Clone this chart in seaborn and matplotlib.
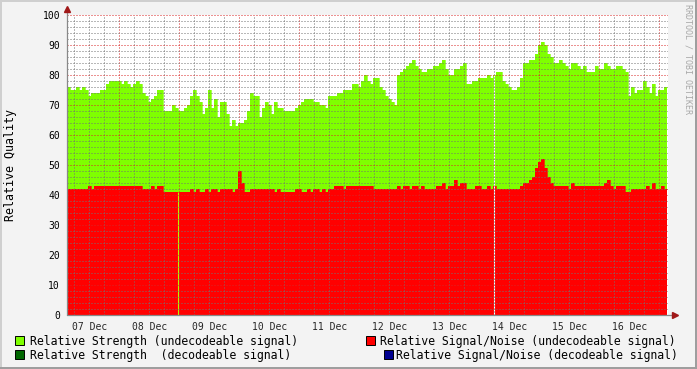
import numpy as np
import matplotlib
matplotlib.use("Agg")
import matplotlib.pyplot as plt
import seaborn as sns
from matplotlib.patches import Rectangle

# ---------------- data ----------------
start_hour = 3.08          # hours after 07 Dec 00:00 of the first sample
step_hours = 1.2           # consolidation step

strength_undecodeable = [
    76, 75, 75, 76, 75, 76, 75, 73, 74, 74,
    74, 75, 75, 77, 78, 78, 78, 78, 77, 78,
    77, 76, 77, 78, 77, 74, 73, 71, 72, 73,
    75, 75, 68, 68, 68, 70, 69, 68, 68, 69,
    70, 73, 75, 73, 71, 67, 69, 75, 69, 72,
    66, 71, 71, 67, 63, 65, 63, 64, 64, 65,
    68, 74, 73, 73, 66, 69, 71, 70, 67, 71,
    69, 69, 68, 68, 68, 68, 69, 70, 71, 72,
    72, 72, 71, 71, 70, 70, 69, 73, 73, 73,
    74, 74, 75, 75, 75, 77, 77, 76, 78, 80,
    78, 77, 79, 79, 76, 75, 73, 72, 71, 70,
    80, 81, 82, 83, 84, 85, 83, 82, 81, 81,
    82, 82, 83, 83, 84, 85, 82, 80, 80, 82,
    82, 83, 84, 77, 77, 78, 78, 79, 79, 79,
    80, 79, 80, 81, 81, 78, 77, 76, 75, 75,
    76, 79, 84, 84, 85, 85, 87, 90, 91, 90,
    87, 86, 84, 84, 85, 84, 83, 82, 84, 84,
    83, 82, 83, 81, 81, 81, 83, 82, 82, 84,
    83, 82, 82, 83, 83, 82, 81, 73, 76, 74,
    75, 75, 78, 76, 74, 77, 73, 75, 75, 76,
]

snr_undecodeable = [
    42, 42, 42, 42, 42, 42, 42, 43, 42, 43,
    43, 43, 43, 43, 43, 43, 43, 43, 43, 43,
    43, 43, 43, 43, 43, 42, 42, 42, 43, 42,
    43, 43, 41, 41, 41, 41, 41, 41, 41, 41,
    41, 42, 41, 42, 41, 41, 42, 41, 42, 42,
    41, 42, 42, 42, 42, 41, 42, 48, 44, 41,
    41, 42, 42, 42, 42, 42, 42, 42, 42, 41,
    42, 41, 41, 41, 41, 41, 42, 42, 41, 41,
    42, 41, 42, 42, 41, 42, 41, 42, 42, 43,
    43, 43, 42, 43, 43, 43, 43, 43, 43, 43,
    43, 43, 42, 42, 42, 42, 42, 42, 42, 42,
    43, 42, 43, 43, 42, 43, 43, 42, 43, 42,
    42, 42, 42, 43, 43, 44, 42, 43, 43, 45,
    43, 44, 44, 42, 42, 42, 43, 43, 42, 42,
    43, 42, 43, 42, 42, 42, 42, 42, 42, 42,
    42, 43, 44, 44, 45, 46, 49, 51, 52, 49,
    46, 44, 43, 43, 43, 43, 43, 42, 44, 43,
    43, 43, 43, 43, 43, 43, 43, 43, 43, 44,
    45, 43, 42, 43, 43, 43, 41, 41, 42, 42,
    42, 42, 42, 43, 42, 44, 42, 42, 43, 42,
]

snr_gap_hours = [47.3]       # missing S/N sample (strength still shown)
all_gap_hours = [173.7]      # missing sample for every series

day_labels = ["07 Dec", "08 Dec", "09 Dec", "10 Dec", "11 Dec",
              "12 Dec", "13 Dec", "14 Dec", "15 Dec", "16 Dec"]
day_label_hours = [12 + 24 * k for k in range(len(day_labels))]

legend_labels = ["Relative Strength (undecodeable signal)",
                 "Relative Signal/Noise (undecodeable signal)",
                 "Relative Strength  (decodeable signal)",
                 "Relative Signal/Noise (decodeable signal)"]

# ---------------- style ----------------
C_GREEN = "#7FFF00"
C_RED = "#FF0000"
C_DKGREEN = "#006600"
C_NAVY = "#000090"
legend_colors = [C_GREEN, C_RED, C_DKGREEN, C_NAVY]

sns.set_style("white")
plt.rcParams["font.family"] = ["DejaVu Sans Mono", "DejaVu Sans"]

W, H = 697, 369
fig = plt.figure(figsize=(W / 100, H / 100), dpi=100, facecolor="#F3F3F3")


def fx(px):
    return px / W


def fy(py):
    return 1 - py / H


ax = fig.add_axes([fx(67), fy(315), (668 - 67) / W, 300 / H])
ax.set_facecolor("white")

n = len(strength_undecodeable)
edges = start_hour + step_hours * np.arange(n + 1)
g_ext = np.append(strength_undecodeable, strength_undecodeable[-1])
r_ext = np.append(snr_undecodeable, snr_undecodeable[-1])

ax.fill_between(edges, 0, g_ext, step="post", color=C_GREEN, lw=0, zorder=1)
sns.lineplot(x=edges, y=g_ext, drawstyle="steps-post", color=C_GREEN,
             lw=0.5, ax=ax, zorder=1.1, legend=False)
ax.fill_between(edges, 0, r_ext, step="post", color=C_RED, lw=0, zorder=2)
sns.lineplot(x=edges, y=r_ext, drawstyle="steps-post", color=C_RED,
             lw=0.5, ax=ax, zorder=2.1, legend=False)

for gh in snr_gap_hours:
    idx = int((gh - start_hour) / step_hours)
    ax.vlines(gh, 0, snr_undecodeable[idx], color="#B8F400", lw=0.8, zorder=2.3)
for gh in all_gap_hours:
    ax.axvline(gh, color="white", lw=0.8, zorder=2.3)

ax.set_yticks(np.arange(0, 101, 10))
ax.set_yticks(np.arange(0, 101, 2), minor=True)
ax.set_xticks(np.arange(0, 241, 24))
ax.set_xticks(np.arange(0, 244, 6), minor=True)
ax.set_xticklabels([])
ax.set_xlim(start_hour, (668 - 59.3) / 2.5)
ax.set_ylim(0, 100)

ax.set_axisbelow(False)
ax.grid(which="major", color=(0.85, 0.15, 0.15, 0.40), ls=(0, (1, 2)), lw=0.72)
ax.grid(which="minor", color=(0.45, 0.45, 0.45, 0.32), ls=(0, (1, 2)), lw=0.72)

for s in ax.spines.values():
    s.set_visible(False)

ax.tick_params(axis="both", which="major", direction="inout", length=3,
               width=0.7, color="#909090", labelsize=7, labelcolor="black")
ax.tick_params(axis="both", which="minor", direction="inout", length=2,
               width=0.7, color="#A0A0A0")
ax.tick_params(axis="y", pad=3.5)

sec = ax.secondary_xaxis("bottom")
sec.set_xticks(day_label_hours, labels=day_labels)
sec.tick_params(length=0, pad=5, labelsize=7)
for s in sec.spines.values():
    s.set_visible(False)

AX_C = "#888888"
ARR_C = "#A01818"
ax.plot([0, 0], [0, 1 + 3 / 300], transform=ax.transAxes, clip_on=False,
        color=AX_C, lw=0.9, zorder=6)
ax.plot([0, 1 + 4 / 601], [0, 0], transform=ax.transAxes, clip_on=False,
        color=AX_C, lw=0.9, zorder=6)
ax.plot([0], [1 + 6 / 300], marker="^", ms=4.5, color=ARR_C, mec=ARR_C,
        transform=ax.transAxes, clip_on=False, zorder=7)
ax.plot([1 + 7 / 601], [0], marker=">", ms=4.5, color=ARR_C, mec=ARR_C,
        transform=ax.transAxes, clip_on=False, zorder=7)

fig.text(fx(11), fy(165), "Relative Quality", rotation=90, va="center",
         ha="center", fontsize=8.4, color="black")

fig.text(fx(688), fy(4), "RRDTOOL / TOBI OETIKER", rotation=270, va="top",
         ha="center", fontsize=6, color="#A8A8A8")

# legend (rrdtool style, two columns)
leg_boxes = [(15, 336), (366, 336), (15, 350), (384, 350)]
leg_texts = [(30, 341), (380, 341), (30, 355), (396, 355)]
for (bx, by), (tx, ty), lab, col in zip(leg_boxes, leg_texts, legend_labels, legend_colors):
    fig.patches.append(Rectangle((fx(bx), fy(by + 9)), 9 / W, 9 / H,
                                 transform=fig.transFigure, facecolor=col,
                                 edgecolor="black", lw=0.7))
    fig.text(fx(tx), fy(ty), lab, ha="left", va="center", fontsize=8.3,
             color="black")

# outer frame
fig.patches.append(Rectangle((0, 1 - 2 / H), 1, 2 / H, transform=fig.transFigure,
                             facecolor="#CFCFCF", lw=0))
fig.patches.append(Rectangle((0, 0), 2 / W, 1, transform=fig.transFigure,
                             facecolor="#CFCFCF", lw=0))
fig.patches.append(Rectangle((0, 0), 1, 2 / H, transform=fig.transFigure,
                             facecolor="#9E9E9E", lw=0))
fig.patches.append(Rectangle((1 - 2 / W, 0), 2 / W, 1, transform=fig.transFigure,
                             facecolor="#9E9E9E", lw=0))

fig.savefig("out.png", dpi=100, facecolor=fig.get_facecolor())
